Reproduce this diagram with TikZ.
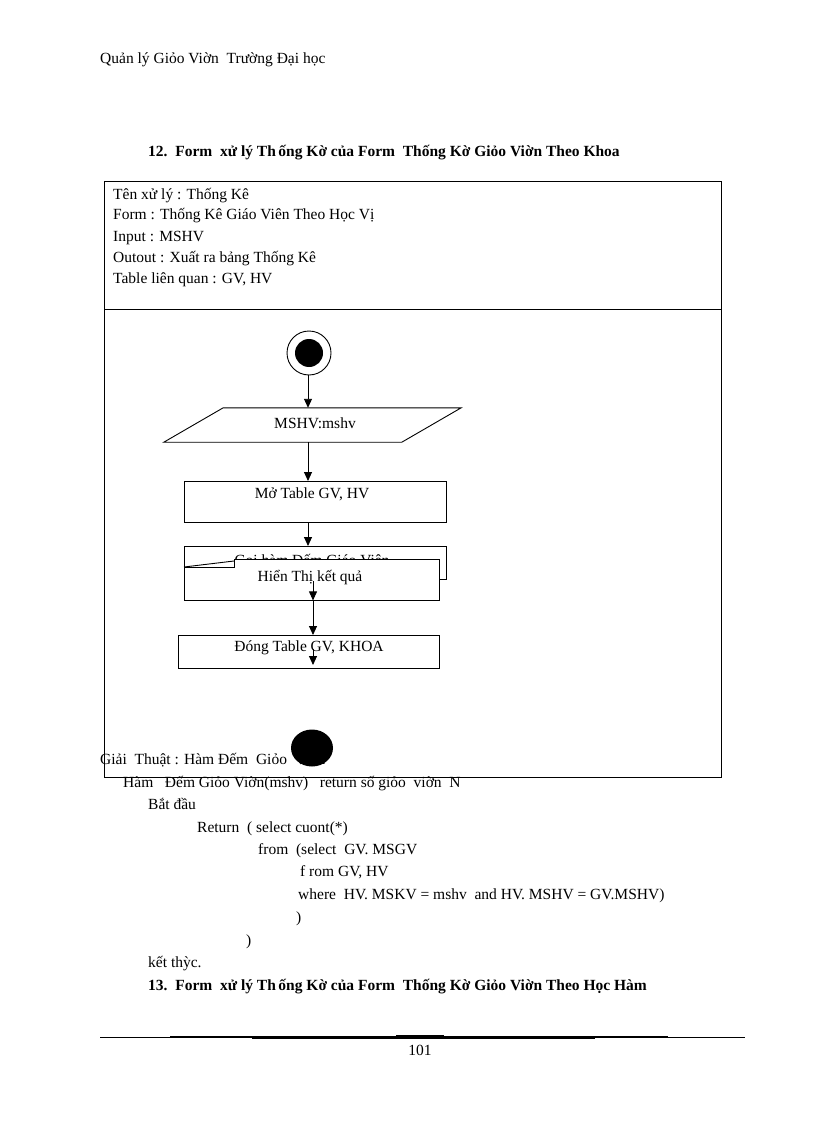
\documentclass[tikz,border=0pt]{standalone}
\usepackage{fontspec}
\setmainfont{Liberation Serif}
\usetikzlibrary{arrows.meta,shapes.geometric}

\begin{document}
\begin{tikzpicture}[
  x=1pt, y=-1pt,
  font=\fontsize{15.5}{18}\selectfont,
  txt/.style={anchor=base west, inner sep=0pt},
  headtxt/.style={txt, font=\fontsize{15.5}{18}\selectfont\bfseries},
  box/.style={rectangle, draw=black, fill=white, line width=0.9pt,
              inner sep=0pt, anchor=north west},
  lbl/.style={inner sep=0pt},
  arr/.style={-{Triangle[length=9pt,width=8pt]}, line width=0.9pt},
]
\useasboundingbox (0,0) rectangle (816,1123);

%% ---- page header ----
\node[txt] (pagehead) at (100,64) {Quản lý\ Giỏo\ Viờn\ \ Trường\ Đại học};
\node[headtxt] (title12) at (148,157)
  {12.\ \ Form\ \ xử lý Th\,ống Kờ của Form\ \ Thống Kờ Giỏo Viờn Theo Khoa};

%% ---- info lines ----
\node[txt] (info1) at (113,200) {Tên xử lý : Thống Kê};
\node[txt] (info2) at (113,220) {Form : Thống Kê Giáo Viên Theo Học Vị};
\node[txt] (info3) at (113,241) {Input : MSHV};
\node[txt] (info4) at (113,262) {Outout : Xuất ra bảng Thống Kê};
\node[txt] (info5) at (113,283) {Table liên quan : GV, HV};

%% ---- flow nodes ----
\node[circle, draw, line width=0.9pt, minimum size=44, inner sep=0pt] (start) at (309,353) {};
\node[circle, fill=black, minimum size=28, inner sep=0pt] (startdot) at (start.center) {};
\node[rectangle, inner sep=0pt, minimum width=297, minimum height=34] (inp) at (312.5,425) {};
\draw[line width=0.9pt] (inp.south west) -- ++(238,0) -- (inp.north east)
  -- ++(-238,0) -- cycle;
\node[lbl] (inplbl) at (315,423) {MSHV:mshv};
\node[box, minimum width=262, minimum height=41] (open) at (184,481) {};
\node[lbl] (openlbl) at (312,494) {Mở Table GV, HV};
\node[box, minimum width=262, minimum height=33] (call) at (184,546) {};
\node[lbl] (calllbl) at (312,561) {Gọi hàm Đếm Giáo Viên};
\draw[fill=white, line width=0.9pt] (184,600) -- (184,567) -- (234,567)
  -- (234,559) -- (439,559) -- (439,600) -- cycle;
\draw[line width=0.9pt] (184,567) -- (234,561);
\node[inner sep=0pt, anchor=north west, minimum width=255, minimum height=41] (show) at (184,559) {};
\node[lbl] (showlbl) at (310,578) {Hiển Thị kết quả};
\node[box, minimum width=261, minimum height=33] (close) at (178,635) {};
\node[lbl] (closelbl) at (309,648) {Đóng Table GV, KHOA};

%% ---- flow arrows ----
\draw[arr] (start.south -| 308,0) -- (308,0 |- inp.north);
\draw[arr] (308,0 |- inp.south) -- (308,0 |- open.north);
\draw[arr] (308,0 |- open.south) -- (308,0 |- call.north);
\coordinate (tailA) at (313,581);
\coordinate (tailB) at (313,649);
\draw[arr] (tailA) -- (tailA |- show.south);
\draw[arr] (tailA |- show.south) -- (tailA |- close.north);
\draw[arr] (tailB) -- (313,665);

%% ---- algorithm text ----
\node[txt] (algo) at (100,764) {Giải\ \ Thuật : Hàm Đếm\ \ Giỏo\ \ Viờn};
\node[ellipse, fill=black, minimum width=42, minimum height=37, inner sep=0pt] (stop) at (312,748) {};
\node[txt] (fnhead) at (123,787)
  {Hàm\ \ \ Đếm Giỏo Viờn(mshv)\ \ \ return số giỏo\ \ viờn\ \ N};
\node[txt] (code1) at (148,809) {Bắt đầu};
\node[txt] (code2) at (197,832) {Return\ \ ( select cuont(*)};
\node[txt] (code3) at (258,854) {from\ \ (select\ \ GV. MSGV};
\node[txt] (code4) at (300,876) {f rom GV, HV};
\node[txt] (code5) at (298,899) {where\ \ HV.\ MSKV = mshv\ \ and\ HV.\ MSHV = GV.MSHV)};
\node[txt] (code6) at (296,922) {)};
\node[txt] (code7) at (246,945) {)};
\node[txt] (code8) at (148,967) {kết thỳc.};
\node[headtxt] (title13) at (148,990)
  {13.\ \ Form\ \ xử lý Th\,ống Kờ của Form\ \ Thống Kờ Giỏo Viờn Theo Học Hàm};

%% ---- frame ----
\node[draw, line width=0.9pt, anchor=north west, minimum width=617, minimum height=596,
      inner sep=0pt] (frame) at (104,181) {};
\draw[line width=0.9pt] (frame.west |- 0,309) -- (frame.east |- 0,309);

%% ---- footer rule ----
\draw[line width=0.8pt] (100,1037.5) -- (745,1037.5);
\draw[line width=1.5pt] (170,1037) -- (668,1037);
\draw[line width=2.4pt] (252,1037.5) -- (595,1037.5);
\draw[line width=3.4pt] (366,1037.5) -- (480,1037.5);
\draw[line width=1.6pt] (396,1035.5) -- (444,1035.5);
\node[lbl] (pageno) at (420,1050) {101};

\end{tikzpicture}
\end{document}
